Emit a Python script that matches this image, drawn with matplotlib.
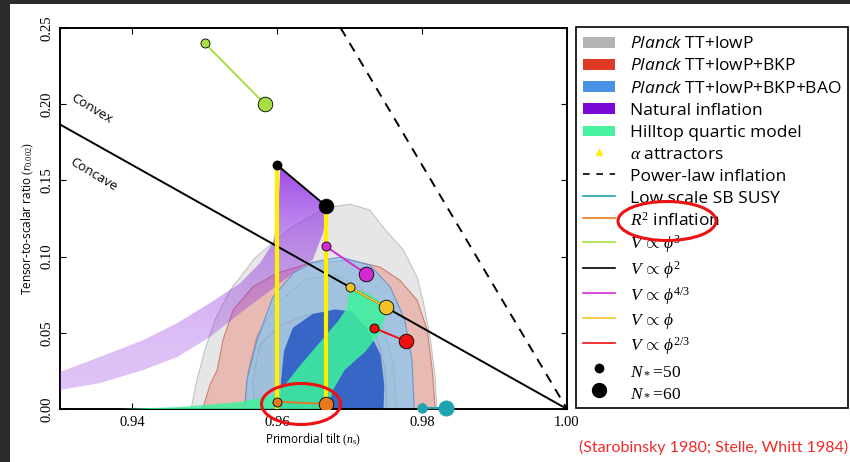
import numpy as np
import matplotlib.pyplot as plt
from matplotlib.patches import Polygon, Ellipse, Rectangle, Patch
from matplotlib.lines import Line2D
from matplotlib.colors import to_rgb
from matplotlib.legend_handler import HandlerPatch

plt.rcParams['font.family'] = ['Open Sans', 'DejaVu Sans']
plt.rcParams['mathtext.fontset'] = 'custom'
plt.rcParams['mathtext.rm'] = 'Liberation Serif'
plt.rcParams['mathtext.it'] = 'Liberation Serif:italic'
plt.rcParams['mathtext.sf'] = 'Open Sans:italic'

# Planck TT+lowP, 95% and 68% regions (n_s, r)
tt95_ns = [0.9481, 0.9489, 0.9500, 0.9514, 0.9535, 0.9569, 0.9618, 0.9666, 0.9700,
           0.9728, 0.9746, 0.9774, 0.9793, 0.9801, 0.9811, 0.9818, 0.9820]
tt95_r = [0.0, 0.0190, 0.0387, 0.0584, 0.0780, 0.0990, 0.1187, 0.1318, 0.1344,
          0.1305, 0.1193, 0.1043, 0.0866, 0.0715, 0.0472, 0.0210, 0.0]
tt68_ns = [0.9555, 0.9560, 0.9572, 0.9600, 0.9640, 0.9680, 0.9715, 0.9742, 0.9760, 0.9765]
tt68_r = [0.0, 0.0250, 0.0480, 0.0700, 0.0850, 0.0880, 0.0800, 0.0600, 0.0300, 0.0]

# Planck TT+lowP+BKP
bkp95_ns = [0.9497, 0.9507, 0.9517, 0.9525, 0.9539, 0.9566, 0.9600, 0.9645, 0.9700,
            0.9742, 0.9769, 0.9793, 0.9807, 0.9814, 0.9818]
bkp95_r = [0.0, 0.0157, 0.0256, 0.0452, 0.0649, 0.0800, 0.0892, 0.0957, 0.0977,
           0.0931, 0.0846, 0.0715, 0.0518, 0.0256, 0.0]
bkp68_ns = [0.9569, 0.9566, 0.9576, 0.9604, 0.9645, 0.9687, 0.9721, 0.9739, 0.9749, 0.9751]
bkp68_r = [0.0, 0.0190, 0.0420, 0.0551, 0.0623, 0.0636, 0.0584, 0.0452, 0.0256, 0.0]

# Planck TT+lowP+BKP+BAO
bao95_ns = [0.9555, 0.9558, 0.9572, 0.9594, 0.9622, 0.9649, 0.9687, 0.9728, 0.9756,
            0.9776, 0.9786, 0.9789]
bao95_r = [0.0, 0.0190, 0.0452, 0.0734, 0.0892, 0.0964, 0.0997, 0.0944, 0.0800,
           0.0584, 0.0321, 0.0]
bao68_ns = [0.9604, 0.9606, 0.9610, 0.9622, 0.9649, 0.9680, 0.9703, 0.9725, 0.9742, 0.9747, 0.9746]
bao68_r = [0.0, 0.0190, 0.0380, 0.0530, 0.0620, 0.0650, 0.0636, 0.0518, 0.0354, 0.0157, 0.0]

# natural inflation band: N=50 and N=60 edges, from the phi^2 end down to the left
nat50_ns = [0.9604, 0.9601, 0.9594, 0.9576, 0.9549, 0.9507, 0.9462, 0.9415, 0.9369, 0.9300]
nat50_r = [0.158, 0.1259, 0.1089, 0.0957, 0.0826, 0.0695, 0.0564, 0.0452, 0.0367, 0.0243]
nat60_ns = [0.9670, 0.9663, 0.9649, 0.9622, 0.9586, 0.9549, 0.9507, 0.9462, 0.9415, 0.9355, 0.9300]
nat60_r = [0.1318, 0.1154, 0.0977, 0.0892, 0.0761, 0.0630, 0.0472, 0.0341, 0.0256, 0.0170, 0.0125]

# hilltop quartic region
hill_ns = [0.9383, 0.9466, 0.9549, 0.9590, 0.9608, 0.9631, 0.9659, 0.9684, 0.9696, 0.9700,
           0.9725, 0.9753, 0.9742, 0.9721, 0.9693, 0.9677, 0.9670]
hill_r = [0.0, 0.0013, 0.0046, 0.0085, 0.0144, 0.0282, 0.0439, 0.0577, 0.0662, 0.0793,
          0.0761, 0.0669, 0.0498, 0.0374, 0.0256, 0.0125, 0.0]

# convex/concave divide and power-law inflation
divide_ns = [0.93, 1.0]
divide_r = [0.1867, 0.0]
powerlaw_ns = [0.96875, 1.0]
powerlaw_r = [0.25, 0.0]

# model predictions at N*=50 and N*=60
models = {
    r'$V\,\propto\,\phi^3$':     ([0.9500, 0.9583], [0.2400, 0.2000], '#a6e040'),
    r'$V\,\propto\,\phi^2$':     ([0.9600, 0.9667], [0.1600, 0.1333], 'black'),
    r'$V\,\propto\,\phi^{4/3}$': ([0.9667, 0.9722], [0.1067, 0.0889], '#d42ad4'),
    r'$V\,\propto\,\phi$':       ([0.9700, 0.9750], [0.0800, 0.0667], '#f3c22a'),
    r'$V\,\propto\,\phi^{2/3}$': ([0.9733, 0.9778], [0.0533, 0.0444], '#ee1010'),
}
r2_ns = [0.9600, 0.9667]
r2_r = [0.0048, 0.0033]
susy_ns = [0.9800, 0.9833]
susy_r = [0.0005, 0.0005]

xticks = [0.94, 0.96, 0.98, 1.00]
yticks = [0.00, 0.05, 0.10, 0.15, 0.20, 0.25]

fig = plt.figure(figsize=(8.5, 4.62), dpi=100)
ax = fig.add_axes([60 / 850, 1 - 409 / 462, 507 / 850, 381 / 462])


def region(ns, r, fc, alpha, ec, z):
    ax.add_patch(Polygon(np.column_stack([ns, r]), closed=True, fc=fc, alpha=alpha,
                         ec='none', zorder=z))
    ax.plot(ns, r, color=ec, lw=0.8, zorder=z, alpha=0.8)


region(tt95_ns, tt95_r, '#c8c8c8', 0.45, '#b8b8b8', 1)
region(tt68_ns, tt68_r, '#9a9a9a', 0.12, '#a0a0a0', 1.1)
region(bkp95_ns, bkp95_r, '#ec6048', 0.32, '#c86a5c', 1.2)
region(bkp68_ns, bkp68_r, '#d23a2a', 0.06, '#b86050', 1.3)
region(bao95_ns, bao95_r, '#86c8f4', 0.7, '#5a8ad0', 1.4)
region(bao68_ns, bao68_r, '#2f5fc6', 0.92, '#2f5fc6', 1.5)

# natural inflation, shaded darker toward the top
nat_poly = Polygon(np.column_stack([nat50_ns + nat60_ns[::-1], nat50_r + nat60_r[::-1]]),
                   closed=True, fc='none', ec='none')
ax.add_patch(nat_poly)
grad = np.linspace(0, 1, 256)[:, None]
rgba = np.zeros((256, 1, 4))
rgba[..., :3] = to_rgb('#9236e2')
rgba[..., 3] = 0.3 + 0.62 * grad ** 2.5
im = ax.imshow(rgba, extent=[0.93, 0.968, 0.0, 0.16], origin='lower', aspect='auto',
               interpolation='bilinear', zorder=3)
im.set_clip_path(nat_poly)

ax.add_patch(Polygon(np.column_stack([hill_ns, hill_r]), closed=True, fc='#3ff29c',
                     alpha=0.85, ec='none', zorder=4))

ax.plot(divide_ns, divide_r, color='black', lw=1.4, zorder=5)
ax.plot(powerlaw_ns, powerlaw_r, color='black', lw=1.4, ls=(0, (5, 4)), zorder=5)

# alpha attractors run from R^2 up to phi^2 at fixed N*
phi2_ns, phi2_r, _ = models[r'$V\,\propto\,\phi^2$']
for k in range(2):
    ax.plot([phi2_ns[k], phi2_ns[k]], [0, phi2_r[k]], color='#fff000', lw=3, zorder=6)

for label, (ns, r, col) in models.items():
    ax.plot(ns, r, color=col, lw=1.4, zorder=7)
    ax.plot(ns[0], r[0], 'o', ms=6.5, mfc=col, mec='black', mew=0.6, zorder=8)
    ax.plot(ns[1], r[1], 'o', ms=10.5, mfc=col, mec='black', mew=0.6, zorder=8)
ax.plot(r2_ns, r2_r, color='#e87a1e', lw=1.4, zorder=7)
ax.plot(r2_ns[0], r2_r[0], 'o', ms=6.5, mfc='#e87a1e', mec='black', mew=0.6, zorder=8)
ax.plot(r2_ns[1], r2_r[1], 'o', ms=10.5, mfc='#e87a1e', mec='black', mew=0.6, zorder=8)
ax.plot(susy_ns, susy_r, color='#1fa3b0', lw=1.4, zorder=7, clip_on=False)
ax.plot(susy_ns[0], susy_r[0], 'o', ms=6.5, mfc='#1fa3b0', mec='#1fa3b0', zorder=8, clip_on=False)
ax.plot(susy_ns[1], susy_r[1], 'o', ms=10.5, mfc='#1fa3b0', mec='#1fa3b0', zorder=8, clip_on=False)

ax.text(0.9344, 0.197, 'Convex', rotation=-31, ha='center', va='center', fontsize=9.5, zorder=9)
ax.text(0.9346, 0.154, 'Concave', rotation=-31, ha='center', va='center', fontsize=9.5, zorder=9)

ax.set_xlim(0.93, 1.0)
ax.set_ylim(0.0, 0.25)
ax.set_xticks(xticks, [f'{v:.2f}' for v in xticks], fontfamily='Liberation Serif', fontsize=10.5)
ax.set_yticks(yticks, [f'{v:.2f}' for v in yticks], fontfamily='Liberation Serif', fontsize=10.5,
              rotation=90, va='center')
ax.tick_params(direction='in', length=4, top=True, right=True, width=0.8, pad=5)
for s in ax.spines.values():
    s.set_linewidth(1.4)
ax.set_xlabel(r'Primordial tilt $(n_\mathrm{s})$', fontsize=8.5, labelpad=2)
ax.set_ylabel(r'Tensor-to-scalar ratio $(r_{0.002})$', fontsize=8.5, labelpad=3)

handles = [
    Patch(fc='#b4b4b4', label=r'$\mathsf{Planck}$ TT+lowP'),
    Patch(fc='#e03a24', label=r'$\mathsf{Planck}$ TT+lowP+BKP'),
    Patch(fc='#4a92e6', label=r'$\mathsf{Planck}$ TT+lowP+BKP+BAO'),
    Patch(fc='#7a08d6', label='Natural inflation'),
    Patch(fc='#48f29e', label='Hilltop quartic model'),
    Line2D([], [], ls='none', marker='^', ms=5, color='#fff000', label=r'$\alpha$ attractors'),
    Line2D([], [], color='black', lw=1.2, ls=(0, (4, 4)), label='Power-law inflation'),
    Line2D([], [], color='#1fa3b0', lw=1.2, label='Low scale SB SUSY'),
    Line2D([], [], color='#e87a1e', lw=1.2, label=r'$R^2$ inflation'),
]
for label, (ns, r, col) in models.items():
    handles.append(Line2D([], [], color=col, lw=1.2, label=label))
handles.append(Line2D([], [], ls='none', marker='o', ms=6, color='black', label=r'$N_*\!=\!50$'))
handles.append(Line2D([], [], ls='none', marker='o', ms=10, color='black', label=r'$N_*\!=\!60$'))


def small_box(legend, orig_handle, xdescent, ydescent, width, height, fontsize):
    # keep the colour swatches shorter than the legend row
    return Rectangle((-xdescent, -ydescent + 0.18 * height), width, 0.64 * height)


leg = ax.legend(handles=handles, loc='upper left', bbox_to_anchor=(576 / 850, 1 - 27 / 462),
                bbox_transform=fig.transFigure, borderaxespad=0, fontsize=12.5,
                frameon=True, fancybox=False, edgecolor='black', framealpha=1,
                handlelength=1.85, handleheight=1.12, handletextpad=0.85, labelspacing=0.22,
                borderpad=0.4, handler_map={Patch: HandlerPatch(patch_func=small_box)})
leg.get_frame().set_linewidth(1.2)

fig.text(848 / 850, 1 - 447 / 462, '(Starobinsky 1980; Stelle, Whitt 1984)', ha='right',
         va='center', color='#f22a2a', fontfamily='Lato', fontsize=11.5)

# red rings around the R^2 entries
fig.add_artist(Ellipse((667 / 850, 1 - 221 / 462), 98 / 850, 39 / 462, transform=fig.transFigure,
                       fill=False, ec='#ee1111', lw=2.2, zorder=10))
fig.add_artist(Ellipse((301 / 850, 1 - 404 / 462), 79 / 850, 41 / 462, transform=fig.transFigure,
                       fill=False, ec='#ee1111', lw=2.2, zorder=10))

# dark edge along the left and top
fig.add_artist(Rectangle((0, 0), 10 / 850, 1, transform=fig.transFigure, fc='#2b2b2b',
                         ec='none', zorder=20))
fig.add_artist(Rectangle((0, 1 - 4 / 462), 1, 4 / 462, transform=fig.transFigure, fc='#2b2b2b',
                         ec='none', zorder=20))

fig.savefig('out.png', dpi=100)
